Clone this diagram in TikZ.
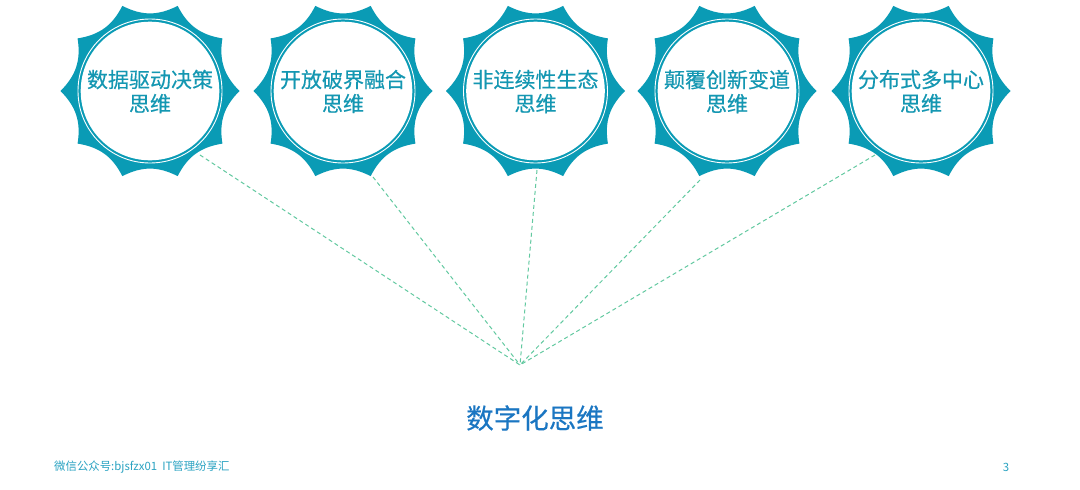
\documentclass[tikz,border=0pt]{standalone}
\usepackage{fontspec}
\setmainfont{Noto Sans CJK SC}
\newfontfamily\cjkmed{Noto Sans CJK SC}[FakeBold=0.4]
\usetikzlibrary{calc}
\definecolor{badgeteal}{HTML}{0A9BB5}
\definecolor{badgetext}{HTML}{1497B2}
\definecolor{titleblue}{HTML}{1A76C2}
\definecolor{dashgreen}{HTML}{62C9A0}
\definecolor{foottext}{HTML}{2AA3C2}
\tikzset{
  badgetxt/.style={font=\cjkmed\fontsize{21}{24}\selectfont, text=badgetext, align=center, inner sep=0pt},
  linkline/.style={draw=dashgreen, line width=1pt, dash pattern=on 4pt off 3pt},
  foot/.style={font=\fontsize{11.4}{13}\selectfont, text=foottext, inner sep=0pt}
}
\begin{document}
\begin{tikzpicture}[x=1pt,y=-1pt]
\useasboundingbox[fill=white] (0,0) rectangle (1080,490);
\foreach \cx/\nm/\txt in {150/b1/数据驱动决策, 343/b2/开放破界融合, 535.5/b3/非连续性生态, 727/b4/颠覆创新变道, 921/b5/分布式多中心}{
  \begin{scope}[shift={(\cx,91)}]
    \fill[badgeteal] (0:89.5) \foreach \k in {1,...,10}{ .. controls (\k*36-24:75.5) and (\k*36-12:75.5) .. (\k*36:89.5)} -- cycle;
    \draw[white, line width=0.9pt] (0,0) circle (72);
    \fill[white] (0,0) circle (69.3);
  \end{scope}
  \node[badgetxt] (\nm) at (\cx,91.5) {\txt\\思维};
}
\coordinate (hub) at (520,365);
\coordinate (s1) at (200,155);
\coordinate (s2) at (373,177);
\coordinate (s3) at (537,170);
\coordinate (s4) at (700,180);
\coordinate (s5) at (875,155);
\foreach \s in {s1,s2,s3,s4,s5}{ \draw[linkline] (\s) -- (hub); }
\node[font=\cjkmed\fontsize{27.5}{30}\selectfont, text=titleblue, inner sep=0pt] (title) at (535,418) {数字化思维};
\node[foot, anchor=west] (footl) at (54,467) {微信公众号:bjsfzx01\ \ IT管理纷享汇};
\node[foot] (page) at (1006,467) {3};
\end{tikzpicture}
\end{document}
